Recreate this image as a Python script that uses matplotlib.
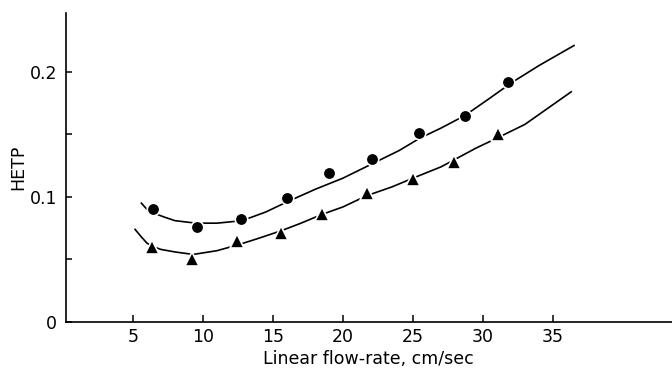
import matplotlib
matplotlib.use("Agg")
import matplotlib.pyplot as plt

# Measured points (circles)
circ_x = [6.4, 9.55, 12.75, 16.0, 19.0, 22.1, 25.4, 28.7, 31.8]
circ_y = [0.090, 0.076, 0.082, 0.099, 0.119, 0.130, 0.151, 0.165, 0.192]
# Measured points (triangles)
tri_x = [6.35, 9.25, 12.45, 15.6, 18.5, 21.7, 25.0, 27.9, 31.1]
tri_y = [0.060, 0.050, 0.065, 0.071, 0.086, 0.103, 0.114, 0.128, 0.150]

# Hand-drawn curves
curve_c_x = [5.6, 6.0, 6.5, 7.2, 8.0, 9.5, 11.0, 12.8, 14.5, 16.0, 18.0, 20.0, 22.0, 24.0,
             25.5, 27.0, 28.7, 30.5, 32.0, 34.0, 36.5]
curve_c_y = [0.095, 0.090, 0.087, 0.084, 0.081, 0.079, 0.079, 0.081, 0.088, 0.096, 0.106, 0.115,
             0.126, 0.137, 0.147, 0.155, 0.165, 0.179, 0.191, 0.205, 0.221]
curve_t_x = [5.15, 5.6, 6.0, 6.5, 7.0, 8.0, 9.3, 11.0, 12.6, 14.0, 15.6, 17.0, 18.5, 20.0, 21.7,
             23.5, 25.0, 27.0, 28.0, 29.5, 31.0, 33.0, 36.3]
curve_t_y = [0.074, 0.068, 0.063, 0.060, 0.058, 0.056, 0.054, 0.057, 0.062, 0.067, 0.073, 0.079,
             0.086, 0.092, 0.101, 0.108, 0.115, 0.124, 0.130, 0.139, 0.147, 0.158, 0.184]

x_ticks = [5, 10, 15, 20, 25, 30, 35]
y_ticks = [0, 0.1, 0.2]
y_ticks_minor = [0.05, 0.15]
y_tick_labels = ["0", "0.1", "0.2"]

fig = plt.figure(figsize=(6.72, 3.77), dpi=100)
ax = fig.add_axes([65.5 / 672, 1 - 322 / 377, 1 - 65.5 / 672, (322 - 13) / 377])

ax.plot(curve_c_x, curve_c_y, color="black", lw=1.2, zorder=2)
ax.plot(curve_t_x, curve_t_y, color="black", lw=1.2, zorder=2)
ax.plot(circ_x, circ_y, linestyle="none", marker="o", ms=9, mfc="black",
        mec="white", mew=1.2, zorder=3)
ax.plot(tri_x, tri_y, linestyle="none", marker="^", ms=10, mfc="black",
        mec="white", mew=1.2, zorder=3)

ax.set_xlim(0.18, 43.5)
ax.set_ylim(0, 0.247)
ax.set_xticks(x_ticks)
ax.set_xticklabels([str(v) for v in x_ticks])
ax.set_yticks(y_ticks)
ax.set_yticklabels(y_tick_labels)
ax.set_yticks(y_ticks_minor, minor=True)

for s in ["top", "right"]:
    ax.spines[s].set_visible(False)
for s in ["left", "bottom"]:
    ax.spines[s].set_linewidth(1.2)

ax.tick_params(axis="x", direction="in", length=5, width=1.1, labelsize=12.5, pad=4)
ax.tick_params(axis="y", which="major", direction="in", length=4, width=1.1,
               labelsize=12.5, pad=6)
ax.tick_params(axis="y", which="minor", direction="in", length=4, width=1.1)

ax.set_xlabel("Linear flow-rate, cm/sec", fontsize=12.5, labelpad=3)
ax.set_ylabel("HETP", fontsize=12.5, labelpad=2)

fig.savefig("out.png", dpi=100)
